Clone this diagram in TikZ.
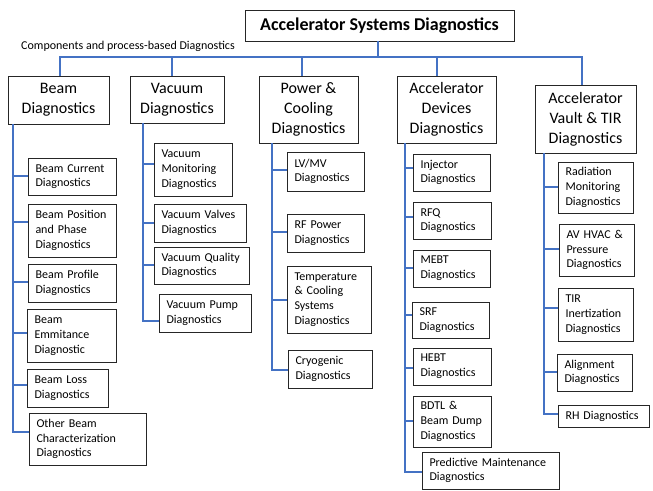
\documentclass[tikz,border=0pt]{standalone}
\usepackage{fontspec}
\setmainfont{Carlito}
\definecolor{busblue}{HTML}{4472C4}
\tikzset{
  bus/.style={draw=busblue, line width=2.6pt},
  cbox/.style={draw=black!85, line width=0.9pt, align=left, inner xsep=7.5pt, inner ysep=0pt, font=\fontsize{12}{14.7}\selectfont},
  hbox/.style={draw=black!85, line width=0.9pt, align=center, inner sep=0pt, font=\fontsize{16}{20}\selectfont},
  tbox/.style={draw=black!85, line width=0.9pt, align=center, inner sep=0pt, font=\fontsize{18}{22}\selectfont\bfseries},
}
\newcommand\cbx[6]{%
  \pgfmathsetmacro\bxw{#4-#2}\pgfmathsetmacro\bxh{#5-#3}\pgfmathsetmacro\bxt{#4-#2-15}%
  \node[cbox, minimum width=\bxw pt, minimum height=\bxh pt, text width=\bxt pt] (#1) at ({(#2+#4)/2},{(#3+#5)/2}) {#6};}
\newcommand\hbx[7]{%
  \pgfmathsetmacro\bxw{#4-#2}\pgfmathsetmacro\bxh{#5-#3}%
  \node[#7, minimum width=\bxw pt, minimum height=\bxh pt] (#1) at ({(#2+#4)/2},{(#3+#5)/2}) {#6};}
\begin{document}
\begin{tikzpicture}[x=1pt,y=-1pt]
\useasboundingbox (0,0) rectangle (653,490);
% title and caption
\hbx{title}{245}{10}{514}{41}{Accelerator Systems Diagnostics}{tbox}
\node[anchor=west, inner sep=0pt, font=\fontsize{12}{14}\selectfont] (cap) at (21,46) {Components and process-based Diagnostics};
% level 1
\hbx{beam}{8}{76}{109}{124}{Beam\\Diagnostics}{hbox}
\hbx{vac}{130}{76}{224}{123}{Vacuum\\Diagnostics}{hbox}
\hbx{pow}{259}{76}{358}{143}{Power \&\\Cooling\\Diagnostics}{hbox}
\hbx{dev}{397}{76}{496}{143}{Accelerator\\Devices\\Diagnostics}{hbox}
\hbx{vlt}{535}{85}{636}{153}{Accelerator\\Vault \& TIR\\Diagnostics}{hbox}
% beam children
\cbx{b1}{28}{158}{116}{195}{Beam Current\\Diagnostics}
\cbx{b2}{28}{204}{116}{257}{Beam Position\\and Phase\\Diagnostics}
\cbx{b3}{28}{264}{116}{302}{Beam Profile\\Diagnostics}
\cbx{b4}{27}{309}{116}{362}{Beam\\Emmitance\\Diagnostic}
\cbx{b5}{27}{369}{108}{407}{Beam Loss\\Diagnostics}
\cbx{b6}{29}{413}{146}{465}{Other Beam\\Characterization\\Diagnostics}
% vacuum children
\cbx{v1}{154}{143}{232}{196}{Vacuum\\Monitoring\\Diagnostics}
\cbx{v2}{154}{204}{246}{242}{Vacuum Valves\\Diagnostics}
\cbx{v3}{154}{247}{249}{284}{Vacuum Quality\\Diagnostics}
\cbx{v4}{159}{294}{251}{332}{Vacuum Pump\\Diagnostics}
% power children
\cbx{p1}{287}{152}{364}{191}{LV/MV\\Diagnostics}
\cbx{p2}{287}{214}{364}{252}{RF Power\\Diagnostics}
\cbx{p3}{287}{266}{371}{333}{Temperature\\\& Cooling\\Systems\\Diagnostics}
\cbx{p4}{288}{350}{372}{388}{Cryogenic\\Diagnostics}
% devices children
\cbx{d1}{413}{154}{490}{191}{Injector\\Diagnostics}
\cbx{d2}{413}{202}{491}{239}{RFQ\\Diagnostics}
\cbx{d3}{413}{250}{490}{287}{MEBT\\Diagnostics}
\cbx{d4}{412}{302}{489}{338}{SRF\\Diagnostics}
\cbx{d5}{413}{348}{491}{385}{HEBT\\Diagnostics}
\cbx{d6}{413}{396}{491}{447}{BDTL \&\\Beam Dump\\Diagnostics}
\cbx{d7}{422}{452}{559}{489}{Predictive Maintenance\\Diagnostics}
% vault children
\cbx{a1}{558}{162}{633}{213}{Radiation\\Monitoring\\Diagnostics}
\cbx{a2}{559}{224}{634}{276}{AV HVAC \&\\Pressure\\Diagnostics}
\cbx{a3}{558}{288}{633}{341}{TIR\\Inertization\\Diagnostics}
\cbx{a4}{557}{354}{632}{391}{Alignment\\Diagnostics}
\cbx{a5}{558}{405}{649}{427}{RH Diagnostics}
% bus
\coordinate (s1) at (60,57);
\coordinate (s2) at (172,57);
\coordinate (s3) at (302,57);
\coordinate (s4) at (437,57);
\coordinate (s5) at (582,57);
\coordinate (st) at (378,57);
\draw[bus] (s1 |- beam.north) -- (s1) -- (s5) -- (s5 |- vlt.north);
\draw[bus] (s2) -- (s2 |- vac.north);
\draw[bus] (s3) -- (s3 |- pow.north);
\draw[bus] (s4) -- (s4 |- dev.north);
\draw[bus] (st) -- (st |- title.south);
% beam column
\coordinate (cb1) at (13,176);
\coordinate (cb2) at (13,222);
\coordinate (cb3) at (13,282);
\coordinate (cb4) at (13,333);
\coordinate (cb5) at (13,385);
\coordinate (cb6) at (13,432);
\draw[bus] (cb6 |- beam.south) -- (cb6) -- (cb6 -| b6.west);
\foreach \i in {1,...,5} \draw[bus] (cb\i) -- (cb\i -| b\i.west);
% vacuum column
\coordinate (cv1) at (143,164);
\coordinate (cv2) at (143,223);
\coordinate (cv3) at (143,265);
\coordinate (cv4) at (143,321);
\draw[bus] (cv4 |- vac.south) -- (cv4) -- (cv4 -| v4.west);
\foreach \i in {1,...,3} \draw[bus] (cv\i) -- (cv\i -| v\i.west);
% power column
\coordinate (cp1) at (272,170);
\coordinate (cp2) at (272,232);
\coordinate (cp3) at (272,300);
\coordinate (cp4) at (272,370);
\draw[bus] (cp4 |- pow.south) -- (cp4) -- (cp4 -| p4.west);
\foreach \i in {1,...,3} \draw[bus] (cp\i) -- (cp\i -| p\i.west);
% devices column
\coordinate (cd1) at (405,168);
\coordinate (cd2) at (405,217);
\coordinate (cd3) at (405,268);
\coordinate (cd4) at (405,315);
\coordinate (cd5) at (405,368);
\coordinate (cd6) at (405,421);
\coordinate (cd7) at (405,472);
\draw[bus] (cd7 |- dev.south) -- (cd7) -- (cd7 -| d7.west);
\foreach \i in {1,...,6} \draw[bus] (cd\i) -- (cd\i -| d\i.west);
% vault column
\coordinate (ca1) at (544,187);
\coordinate (ca2) at (544,249);
\coordinate (ca3) at (544,308);
\coordinate (ca4) at (544,372);
\coordinate (ca5) at (544,414);
\draw[bus] (ca5 |- vlt.south) -- (ca5) -- (ca5 -| a5.west);
\foreach \i in {1,...,4} \draw[bus] (ca\i) -- (ca\i -| a\i.west);
\end{tikzpicture}
\end{document}
